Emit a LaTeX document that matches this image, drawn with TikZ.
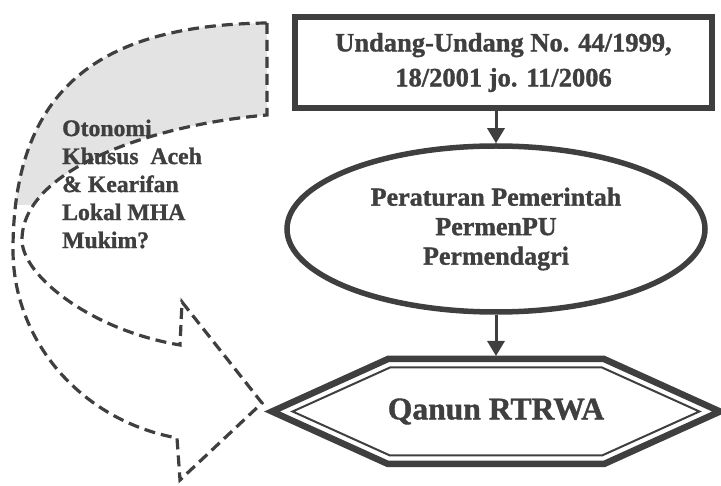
\documentclass[tikz,border=0pt]{standalone}
\usepackage{fontspec}
\setmainfont[BoldFeatures={FakeBold=1.2}]{Liberation Serif}
\usetikzlibrary{arrows.meta,shapes.geometric}
\definecolor{ink}{HTML}{3F3F3F}
\newcommand\bendarrow{(267,23) -- (267,115) .. controls (150,125) and (22,170) .. (22,240) .. controls (22,275) and (90,330) .. (180,345) -- (182,302) -- (262,403) -- (180,480) -- (177,438) .. controls (80,420) and (13,340) .. (13,250) .. controls (13,80) and (110,25) .. (267,23) -- cycle}
\begin{document}
\begin{tikzpicture}[x=1pt,y=-1pt,
	every node/.style={text=ink},
	conn/.style={draw=ink,line width=3pt,-{Triangle[width=17pt,length=15pt]}},
	dashline/.style={draw=ink,line width=3.2pt,dash pattern=on 11pt off 6pt}]
	\useasboundingbox (0,0) rectangle (721,486);
	\begin{scope}
		\clip (0,0) rectangle (300,205);
		\fill[black!11] \bendarrow;
	\end{scope}
	\path[dashline] \bendarrow;

	\node[draw=ink, line width=6pt, minimum width=417pt, minimum height=91pt, align=center, font=\fontsize{26.5}{35}\selectfont\bfseries] (uu) at (503.5,62.5) {Undang-Undang No. 44/1999,\\18/2001 jo. 11/2006};
	\node[draw=ink, ellipse, line width=5.5pt, minimum width=418pt, minimum height=166pt, inner sep=0pt, align=center, font=\fontsize{26}{29.5}\selectfont\bfseries] (pp) at (496,229) {Peraturan Pemerintah\\PermenPU\\Permendagri};
	\node[minimum width=448pt, minimum height=105pt, inner sep=0pt, outer sep=0pt, font=\fontsize{31.6}{36}\selectfont\bfseries] (qanun) at (496,411.5) {Qanun RTRWA};
	\node[anchor=west, align=left, inner sep=0pt, font=\fontsize{23.7}{28}\selectfont\bfseries] (oto) at (62,184) {Otonomi\\Khusus\ \ Aceh\\\& Kearifan\\Lokal MHA\\Mukim?};

	\draw[ink, line width=6.5pt, line join=miter] (qanun.west) -- ++(116,-52.5) -- ++(216,0) -- (qanun.east) -- ++(-116,52.5) -- ++(-216,0) -- cycle;
	\draw[ink, line width=2pt, line join=miter] ([xshift=20.6pt]qanun.west) -- ++(97.4,-44) -- ++(212,0) -- ([xshift=-20.6pt]qanun.east) -- ++(-97.4,44) -- ++(-212,0) -- cycle;

	\path[conn] (uu.south -| pp.north) -- (pp.north);
	\path[conn, shorten >=3pt] (pp.south) -- (qanun.north);
\end{tikzpicture}
\end{document}
